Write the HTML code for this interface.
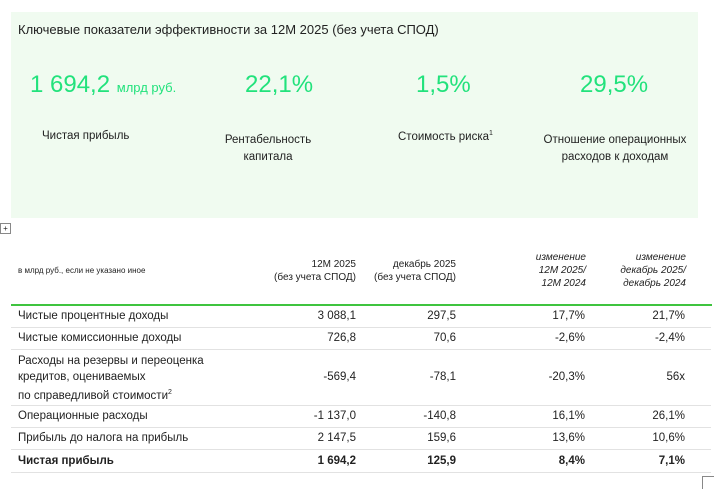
<!DOCTYPE html>
<html><head><meta charset="utf-8"><style>
body{margin:0;width:714px;height:488px;background:#fff;position:relative;overflow:hidden;font-family:"Liberation Sans Narrow","Liberation Sans",sans-serif;color:#222}
div{position:absolute;white-space:nowrap}
.box{left:11px;top:12px;width:687px;height:206px;background:#f0fbf0}
.g{color:#22e27c;font-size:24px}
.l{font-size:11.5px;text-align:center}
.t{font-size:11.5px}
.r{text-align:right}
.h{font-size:10px;text-align:right;line-height:13px}
.i{font-style:italic}
.ln{left:11px;width:700px;height:1px;background:#e2e2e2}
</style></head><body>
<div class="box"></div>
<div style="left:18px;top:22px;font-size:13px">Ключевые показатели эффективности за 12М 2025 (без учета СПОД)</div>
<div class="g" style="left:30px;top:71px">1 694,2 <span style="font-size:13px">млрд руб.</span></div>
<div class="g" style="left:245px;top:71px">22,1%</div>
<div class="g" style="left:416px;top:71px">1,5%</div>
<div class="g" style="left:580px;top:71px">29,5%</div>
<div class="l" style="left:42px;top:130px">Чистая прибыль</div>
<div class="l" style="left:218px;top:132px;width:100px;line-height:17px">Рентабельность<br>капитала</div>
<div class="l" style="left:398px;top:130px">Стоимость риска<sup style="font-size:7px">1</sup></div>
<div class="l" style="left:540px;top:132px;width:150px;line-height:17px">Отношение операционных<br>расходов к доходам</div>
<div style="left:0;top:223px;width:9px;height:9px;border:1px solid #888;font-size:8px;line-height:9px;text-align:center">+</div>
<div style="left:18px;top:266px;font-size:8px">в млрд руб., если не указано иное</div>
<div class="h" style="left:236px;top:258px;width:120px">12М 2025<br>(без учета СПОД)</div>
<div class="h" style="left:336px;top:258px;width:120px">декабрь 2025<br>(без учета СПОД)</div>
<div class="h i" style="left:466px;top:251px;width:120px">изменение<br>12М 2025/<br>12М 2024</div>
<div class="h i" style="left:566px;top:251px;width:120px">изменение<br>декабрь 2025/<br>декабрь 2024</div>
<div style="left:11px;top:304px;width:701px;height:2px;background:#3fc43f"></div>
<div class="t" style="left:18px;top:310px">Чистые процентные доходы</div>
<div class="t" style="left:18px;top:332px">Чистые комиссионные доходы</div>
<div class="t" style="left:18px;top:353px;line-height:16px">Расходы на резервы и переоценка<br>кредитов, оцениваемых<br>по справедливой стоимости<sup style="font-size:7px">2</sup></div>
<div class="t" style="left:18px;top:410px">Операционные расходы</div>
<div class="t" style="left:18px;top:432px">Прибыль до налога на прибыль</div>
<div class="t" style="left:18px;top:455px;font-weight:bold">Чистая прибыль</div>
<div class="t r" style="left:256px;width:100px;top:310px">3 088,1</div>
<div class="t r" style="left:356px;width:100px;top:310px">297,5</div>
<div class="t r" style="left:485px;width:100px;top:310px">17,7%</div>
<div class="t r" style="left:585px;width:100px;top:310px">21,7%</div>
<div class="t r" style="left:256px;width:100px;top:332px">726,8</div>
<div class="t r" style="left:356px;width:100px;top:332px">70,6</div>
<div class="t r" style="left:485px;width:100px;top:332px">-2,6%</div>
<div class="t r" style="left:585px;width:100px;top:332px">-2,4%</div>
<div class="t r" style="left:256px;width:100px;top:371px">-569,4</div>
<div class="t r" style="left:356px;width:100px;top:371px">-78,1</div>
<div class="t r" style="left:485px;width:100px;top:371px">-20,3%</div>
<div class="t r" style="left:585px;width:100px;top:371px">56x</div>
<div class="t r" style="left:256px;width:100px;top:410px">-1 137,0</div>
<div class="t r" style="left:356px;width:100px;top:410px">-140,8</div>
<div class="t r" style="left:485px;width:100px;top:410px">16,1%</div>
<div class="t r" style="left:585px;width:100px;top:410px">26,1%</div>
<div class="t r" style="left:256px;width:100px;top:432px">2 147,5</div>
<div class="t r" style="left:356px;width:100px;top:432px">159,6</div>
<div class="t r" style="left:485px;width:100px;top:432px">13,6%</div>
<div class="t r" style="left:585px;width:100px;top:432px">10,6%</div>
<div class="t r" style="left:256px;width:100px;top:455px;font-weight:bold">1 694,2</div>
<div class="t r" style="left:356px;width:100px;top:455px;font-weight:bold">125,9</div>
<div class="t r" style="left:485px;width:100px;top:455px;font-weight:bold">8,4%</div>
<div class="t r" style="left:585px;width:100px;top:455px;font-weight:bold">7,1%</div>
<div class="ln" style="top:327px"></div>
<div class="ln" style="top:349px"></div>
<div class="ln" style="top:405px"></div>
<div class="ln" style="top:427px"></div>
<div class="ln" style="top:449px"></div>
<div class="ln" style="top:472px"></div>
<div style="left:702px;top:476px;width:12px;height:12px;border-left:1px solid #888;border-top:1px solid #888"></div>
</body></html>
